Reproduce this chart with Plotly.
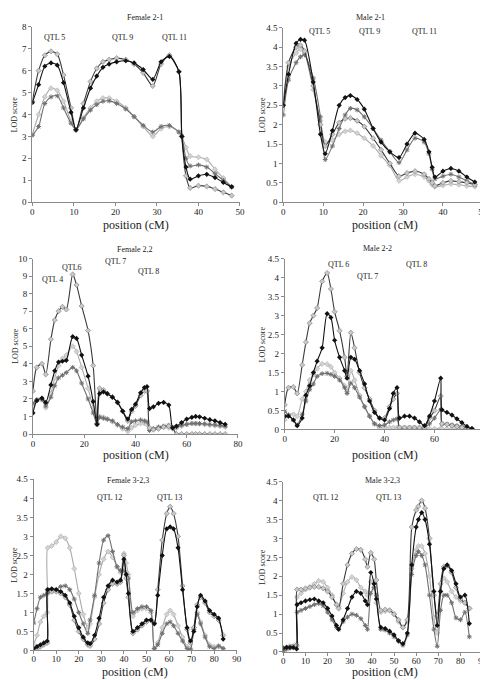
import plotly.graph_objects as go

# ---------------- data ----------------
# Panel 1: Female 2-1
pos_f21 = [0, 1.5, 3, 4.5, 6, 7.5, 9.3, 10.5, 12.3, 14, 15.5, 17, 18.5, 20.3, 22.5, 24.5,
           26.7, 29, 31, 33, 35.3, 36, 37, 38, 40, 42, 44, 46, 48]
f21_s1 = [4.54, 5.36, 6.2, 6.35, 6.25, 5.45, 4.1, 3.3, 4.3, 5.2, 5.75, 6.15, 6.3, 6.4, 6.45, 6.35,
          6.05, 5.6, 6.4, 6.65, 5.95, 3.0, 1.6, 1.05, 1.2, 1.27, 1.12, 0.9, 0.7]
f21_s2 = [4.6, 6.0, 6.7, 6.88, 6.75, 5.8, 4.3, 3.3, 4.5, 5.5, 6.1, 6.4, 6.5, 6.57, 6.5, 6.3,
          5.9, 5.3, 6.3, 6.7, 5.95, 3.0, 1.2, 0.65, 0.75, 0.72, 0.6, 0.45, 0.3]
f21_s3 = [3.1, 4.0, 4.8, 5.2, 5.1, 4.6, 3.7, 3.3, 3.85, 4.3, 4.6, 4.75, 4.75, 4.6, 4.3, 3.9,
          3.45, 3.0, 3.35, 3.45, 3.2, 3.0, 2.5, 2.1, 2.05, 1.95, 1.5, 1.1, 0.7]
f21_s4 = [3.05, 3.45, 4.5, 4.8, 4.85, 4.3, 3.6, 3.3, 3.8, 4.2, 4.45, 4.6, 4.62, 4.5, 4.25, 3.9,
          3.5, 3.2, 3.45, 3.5, 3.2, 3.0, 2.0, 1.65, 1.7, 1.6, 1.3, 1.0, 0.7]

# Panel 2: Male 2-1
pos_m21 = [0, 1.3, 3.2, 4.3, 5.3, 7.5, 9.3, 10.5, 12.3, 14, 15.5, 16.8, 18.5, 20.3, 22.5, 24.5,
           26.7, 29, 31, 33, 35.3, 36.5, 37.3, 38, 40, 42, 44, 46, 48]
m21_s1 = [2.5, 3.3, 4.1, 4.2, 4.18, 3.1, 1.75, 1.25, 1.85, 2.5, 2.7, 2.75, 2.65, 2.4, 1.9, 1.55,
          1.3, 1.15, 1.5, 1.78, 1.62, 1.3, 0.9, 0.65, 0.8, 0.87, 0.8, 0.65, 0.52]
m21_s2 = [2.5, 3.6, 4.0, 4.05, 3.9, 3.0, 2.0, 1.45, 1.75, 2.05, 2.15, 2.17, 2.1, 1.95, 1.65, 1.35,
          1.0, 0.67, 0.75, 0.8, 0.72, 0.6, 0.5, 0.42, 0.5, 0.55, 0.53, 0.5, 0.45]
m21_s3 = [2.65, 3.5, 3.85, 3.95, 3.85, 2.9, 2.1, 1.55, 1.6, 1.75, 1.83, 1.85, 1.78, 1.65, 1.45, 1.2,
          0.95, 0.55, 0.65, 0.72, 0.65, 0.55, 0.45, 0.4, 0.43, 0.47, 0.45, 0.42, 0.4]
m21_s4 = [2.25, 3.15, 3.6, 3.75, 3.8, 3.2, 2.2, 1.1, 1.45, 1.9, 2.25, 2.42, 2.38, 2.2, 1.9, 1.6,
          1.3, 1.02, 1.35, 1.65, 1.55, 1.25, 0.85, 0.6, 0.67, 0.72, 0.65, 0.55, 0.45]

# Panel 3: Female 2,2
pos_f22 = [0, 1.5, 3.5, 5, 7, 8.5, 10, 11.5, 13, 15.5, 17, 19, 21.5, 23.5, 25, 26, 27.5, 29, 31, 33,
           35, 37, 38.5, 40, 42, 43.5, 44.5, 45.5, 47, 49, 51, 53, 54.5, 56, 58, 60, 62, 63.5, 65,
           67, 69, 71, 73, 75]
f22_s1 = [1.2, 1.9, 2.05, 1.8, 2.8, 3.6, 4.1, 4.15, 4.2, 5.55, 5.45, 4.5, 3.3, 1.85, 0.55, 2.3,
          2.4, 2.3, 2.1, 1.8, 1.3, 0.85, 1.4, 1.7, 2.35, 2.65, 2.7, 1.45, 1.55, 1.75, 1.8, 1.65,
          0.35, 0.45, 0.65, 0.85, 0.95, 1.0, 0.98, 0.9, 0.82, 0.75, 0.65, 0.55]
f22_s2 = [2.45, 3.8, 4.0, 3.4, 5.4, 6.5, 7.0, 7.25, 7.1, 9.1, 8.5, 7.3, 5.9, 3.9, 0.6, 2.6,
          2.5, 2.3, 2.1, 1.8, 1.3, 0.75, 1.3, 1.6, 2.2, 2.45, 2.45, 0.35, 0.25, 0.3, 0.4, 0.45,
          0.35, 0.0, 0.0, 0.0, 0.0, 0.0, 0.0, 0.0, 0.0, 0.0, 0.0, 0.0]
f22_s3 = [1.6, 1.95, 2.0, 1.5, 2.3, 3.2, 3.9, 4.3, 4.5, 5.0, 4.7, 3.8, 2.6, 1.5, 0.6, 1.0,
          0.95, 0.85, 0.7, 0.5, 0.3, 0.15, 0.35, 0.5, 0.6, 0.6, 0.55, 0.25, 0.3, 0.35, 0.4, 0.35,
          0.3, 0.35, 0.45, 0.55, 0.6, 0.6, 0.58, 0.55, 0.5, 0.48, 0.45, 0.4]
f22_s4 = [1.75, 1.95, 1.95, 1.6, 2.1, 2.75, 3.2, 3.35, 3.5, 3.8, 3.6, 2.9, 2.0, 1.2, 0.55, 0.95,
          0.9, 0.85, 0.75, 0.55, 0.4, 0.3, 0.7, 0.75, 0.8, 0.75, 0.7, 0.2, 0.3, 0.4, 0.45, 0.5,
          0.35, 0.4, 0.5, 0.55, 0.6, 0.6, 0.6, 0.58, 0.55, 0.52, 0.48, 0.45]

# Panel 4: Male 2-2
pos_m22 = [0, 1.5, 3.5, 5, 7, 8.5, 10, 11.5, 13, 15, 17, 18.5, 20, 22, 24, 25, 26.5, 28, 30, 32,
           34, 36, 38, 40, 42, 43.5, 45, 46, 48, 50, 52, 54, 56, 58, 60, 62.5, 63, 65, 67, 69,
           71, 73, 75]
m22_s1 = [0.35, 0.35, 0.25, 0.1, 0.3, 0.9, 1.15, 1.5, 1.8, 2.15, 3.05, 2.95, 2.35, 1.9, 1.55, 1.35,
          1.9, 1.85, 1.55, 1.2, 0.75, 0.45, 0.3, 0.25, 0.55, 0.95, 1.1, 0.3, 0.35, 0.35, 0.3, 0.2,
          0.1, 0.35, 0.75, 1.35, 0.52, 0.45, 0.38, 0.28, 0.18, 0.08, 0.02]
m22_s2 = [0.65, 1.1, 1.12, 0.95, 1.7, 2.3, 2.8, 3.0, 3.2, 3.9, 4.12, 3.7, 3.1, 2.6, 1.9, 1.4,
          2.55, 2.15, 1.5, 1.1, 0.8, 0.5, 0.3, 0.3, 0.6, 0.8, 0.95, 0.05, 0.05, 0.05, 0.05, 0.05,
          0.05, 0.3, 0.5, 0.88, 0.15, 0.13, 0.1, 0.08, 0.05, 0.03, 0.02]
m22_s3 = [0.25, 0.38, 0.4, 0.35, 0.8, 1.0, 1.3, 1.45, 1.6, 1.73, 1.72, 1.65, 1.5, 1.35, 1.15, 1.0,
          1.55, 1.3, 0.9, 0.6, 0.35, 0.15, 0.05, 0.05, 0.05, 0.05, 0.05, 0.05, 0.05, 0.05, 0.05, 0.03,
          0.02, 0.02, 0.02, 0.03, 0.02, 0.02, 0.02, 0.02, 0.02, 0.01, 0.01]
m22_s4 = [0.48, 0.38, 0.25, 0.12, 0.4, 0.75, 1.05, 1.2, 1.4, 1.47, 1.48, 1.45, 1.4, 1.3, 1.1, 0.95,
          1.22, 1.1, 0.85, 0.6, 0.35, 0.15, 0.1, 0.12, 0.2, 0.25, 0.28, 0.05, 0.05, 0.05, 0.05, 0.05,
          0.05, 0.15, 0.3, 0.52, 0.15, 0.14, 0.12, 0.1, 0.07, 0.04, 0.02]

# Panel 5: Female 3-2,3
pos_f323 = [0, 1.5, 3, 4.5, 6, 6.2, 8, 10, 12, 14, 16, 18, 20, 22, 24, 25, 27, 29, 31, 33,
            35, 37, 38.5, 40, 41, 42, 44, 46, 48, 50, 52, 53.5, 55, 57, 59, 60.5, 62, 64, 66, 68,
            69.5, 71, 72.5, 74, 76, 78, 80, 82, 84]
f323_s1 = [0.05, 0.1, 0.15, 0.2, 0.25, 1.6, 1.62, 1.6, 1.55, 1.45, 1.25, 0.9, 0.6, 0.35, 0.2,
           0.18, 0.4, 0.85, 1.4, 1.7, 1.85, 1.8, 1.85, 2.4, 2.0, 1.5, 0.5, 0.6, 0.7, 0.8,
           0.8, 0.7, 1.45, 2.5, 3.2, 3.25, 3.2, 2.7, 1.6, 0.6, 0.25, 0.5, 1.15, 1.45, 1.3,
           1.05, 0.95, 0.85, 0.3]
f323_s2 = [0.02, 0.05, 0.1, 0.15, 0.2, 1.6, 1.55, 1.55, 1.5, 1.4, 1.2, 0.8, 0.5, 0.3, 0.15,
           0.12, 0.3, 0.7, 1.25, 1.6, 1.75, 1.75, 1.8, 2.5, 1.9, 1.4, 0.45, 0.55, 0.65, 0.75,
           0.8, 0.72, 1.6, 2.9, 3.6, 3.78, 3.6, 3.0, 1.7, 0.55, 0.2, 0.6, 1.2, 1.4, 1.25,
           1.0, 0.9, 0.8, 0.4]
f323_s3 = [0.15, 0.4, 0.75, 0.9, 1.0, 2.7, 2.75, 2.85, 3.0, 2.95, 2.7, 2.15, 1.5, 0.95, 0.6,
           0.7, 1.4, 2.0, 2.4, 2.6, 2.45, 2.2, 2.05, 2.55, 2.3, 2.0, 0.9, 1.05, 1.1, 1.1,
           1.0, 0.05, 0.2, 0.6, 0.95, 1.05, 0.95, 0.65, 0.35, 0.1, 0.05, 0.6, 1.0, 0.75, 0.4,
           0.15, 0.1, 0.1, 0.05]
f323_s4 = [0.72, 1.1, 1.4, 1.45, 1.5, 1.52, 1.55, 1.6, 1.68, 1.7, 1.6, 1.35, 1.0, 0.7, 0.45,
           0.8, 1.45, 2.3, 2.9, 3.02, 2.6, 2.2, 2.1, 2.1, 2.0, 1.9, 1.0, 1.1, 1.15, 1.15,
           1.05, 0.05, 0.15, 0.45, 0.7, 0.75, 0.65, 0.45, 0.25, 0.05, 0.02, 0.55, 0.95, 0.7, 0.35,
           0.1, 0.05, 0.12, 0.05]

# Panel 6: Male 3-2,3
pos_m323 = [0, 1.5, 3, 4.5, 6, 6.2, 8, 10, 12, 14, 16, 18, 20, 22, 24, 25, 27, 29, 31, 33,
            35, 37, 38, 39.5, 41, 42, 44, 46, 48, 50, 52, 54, 56, 58, 60, 61, 62.5, 64, 66, 68,
            69.5, 71, 72.5, 74, 76, 78, 80, 82, 84]
m323_s1 = [0.1, 0.12, 0.12, 0.12, 0.08, 1.25, 1.3, 1.35, 1.38, 1.4, 1.35, 1.3, 1.15, 0.95, 0.7,
           0.6, 0.85, 1.15, 1.45, 1.6, 1.55, 1.35, 1.25, 2.1, 1.8, 1.4, 0.65, 0.62, 0.55, 0.45,
           0.3, 0.22, 0.5, 2.3, 3.3, 3.5, 3.68, 3.5, 2.85, 1.6, 0.7, 1.6, 2.2, 2.3, 2.15,
           1.8, 1.45, 1.5, 0.75]
m323_s2 = [0.1, 0.12, 0.15, 0.15, 0.18, 1.65, 1.65, 1.68, 1.7, 1.72, 1.72, 1.68, 1.6, 1.45, 1.25,
           1.15, 1.8, 2.3, 2.6, 2.72, 2.7, 2.45, 2.25, 2.62, 2.45, 1.9, 1.1, 1.12, 1.1, 1.0,
           0.85, 0.65, 0.85, 3.3, 3.75, 3.85, 4.0, 3.8, 3.0, 1.5, 0.95, 1.8, 2.25, 2.28, 2.1,
           1.7, 1.4, 1.3, 1.15]
m323_s3 = [0.05, 0.08, 0.1, 0.12, 0.15, 1.45, 1.55, 1.65, 1.72, 1.8, 1.88, 1.85, 1.7, 1.5, 1.25,
           1.2, 1.55, 1.85, 1.98, 1.9, 1.7, 1.6, 1.5, 1.85, 1.7, 1.3, 1.05, 1.08, 1.1, 1.0,
           0.8, 0.65, 0.8, 2.2, 2.7, 2.8, 2.8, 2.6, 2.0, 0.9, 0.5, 1.6, 1.95, 1.85, 1.6,
           1.45, 1.35, 1.3, 1.15]
m323_s4 = [0.02, 0.08, 0.12, 0.15, 0.2, 1.05, 1.1, 1.15, 1.2, 1.25, 1.28, 1.22, 1.05, 0.85, 0.65,
           0.6, 0.8, 0.92, 1.0, 0.97, 0.88, 0.7, 0.6, 1.55, 1.7, 1.5, 0.6, 0.58, 0.5, 0.4,
           0.28, 0.18, 0.45, 2.05, 2.55, 2.65, 2.55, 2.3, 1.5, 0.6, 0.15, 1.1, 1.5, 1.5, 1.3,
           0.9, 0.85, 1.05, 0.4]

panel_titles = ["Female 2-1", "Male 2-1", "Female 2,2", "Male 2-2", "Female 3-2,3", "Male 3-2,3"]
x_axis_title = "position (cM)"
y_axis_title = "LOD score"

# ---------------- layout helpers ----------------
W, H = 488, 680
FONT = "Liberation Serif, Times New Roman, serif"


def px(x):
    return x / W


def py(y):
    return 1 - y / H


panels = [
    # positions, series, x range, x dtick, y range, y dtick, plot box (l, r, top, bottom) in px
    (pos_f21, [f21_s1, f21_s2, f21_s3, f21_s4], 50, 10, 8, 1, (22.7, 233.3, 14, 192)),
    (pos_m21, [m21_s1, m21_s2, m21_s3, m21_s4], 50, 10, 4.5, 0.5, (277.3, 479.7, 15, 192)),
    (pos_f22, [f22_s1, f22_s2, f22_s3, f22_s4], 80, 20, 10, 1, (23.3, 231.3, 249.3, 427.3)),
    (pos_m22, [m22_s1, m22_s2, m22_s3, m22_s4], 80, 20, 4.5, 0.5, (278.7, 481.3, 249.3, 422.7)),
    (pos_f323, [f323_s1, f323_s2, f323_s3, f323_s4], 90, 10, 4.5, 0.5, (24, 230, 473.3, 647)),
    (pos_m323, [m323_s1, m323_s2, m323_s3, m323_s4], 90, 10, 4.5, 0.5, (277.3, 479.5, 475.7, 648.5)),
]

styles = [
    dict(line=dict(color="#111111", width=1.1),
         marker=dict(symbol="diamond", size=4, color="#111111")),
    dict(line=dict(color="#3a3a3a", width=1.1),
         marker=dict(symbol="diamond", size=4, color="#c8c8c8", line=dict(color="#777777", width=0.6))),
    dict(line=dict(color="#ababab", width=1.1),
         marker=dict(symbol="diamond", size=4, color="#d2d2d2", line=dict(color="#aaaaaa", width=0.5))),
    dict(line=dict(color="#707070", width=1.1),
         marker=dict(symbol="asterisk-open", size=4, color="#707070", line=dict(color="#707070", width=1))),
]

fig = go.Figure()
layout_axes = {}
for i, (xs, series, xmax, xdt, ymax, ydt, box) in enumerate(panels):
    n = i + 1
    xa = "x" if n == 1 else f"x{n}"
    ya = "y" if n == 1 else f"y{n}"
    # draw lighter series first so black is on top
    for k in [2, 3, 1, 0]:
        fig.add_trace(go.Scatter(
            x=xs, y=series[k], xaxis=xa, yaxis=ya, mode="lines+markers",
            line_shape="spline", line_smoothing=0.7,
            showlegend=False, hoverinfo="skip", **styles[k]))
    l, r, t, b = box
    xkey = "xaxis" if n == 1 else f"xaxis{n}"
    ykey = "yaxis" if n == 1 else f"yaxis{n}"
    layout_axes[xkey] = dict(
        domain=[px(l), px(r)], anchor=ya, range=[0, xmax], dtick=xdt, tick0=0,
        showline=True, linecolor="#8a8a8a", linewidth=1, ticks="outside", ticklen=3,
        tickcolor="#8a8a8a", showgrid=False, zeroline=False,
        ticklabelstandoff=(-3 if n >= 5 else -2),
        tickfont=dict(family=FONT, size=9, color="#222"))
    layout_axes[ykey] = dict(
        domain=[py(b), py(t)], anchor=xa, range=[0, ymax], dtick=ydt, tick0=0,
        showline=True, linecolor="#8a8a8a", linewidth=1, ticks="outside", ticklen=3,
        tickcolor="#8a8a8a", showgrid=False, zeroline=False,
        tickfont=dict(family=FONT, size=9, color="#222"))

annotations = []


def txt(text, x, y, size=8, angle=0):
    annotations.append(dict(text=text, x=px(x), y=py(y), xref="paper", yref="paper",
                            showarrow=False, xanchor="center", yanchor="middle",
                            textangle=angle, font=dict(family=FONT, size=size, color="#222")))


# panel titles
title_pos = [(137, 5), (366, 5), (127, 240), (373, 239), (120, 474), (378, 474)]
for t, (x, y) in zip(panel_titles, title_pos):
    txt(t, x, y, 8)

# QTL labels
qtl = [("QTL 5", 45, 25), ("QTL 9", 114, 25), ("QTL 11", 167, 25),
       ("QTL 5", 314, 19), ("QTL 9", 365, 19), ("QTL 11", 421, 19),
       ("QTL 4", 43, 270), ("QTL6", 63, 258), ("QTL 7", 107, 252), ("QTL 8", 141, 262),
       ("QTL 6", 333, 255), ("QTL 7", 363, 267), ("QTL 8", 412, 255),
       ("QTL 12", 101, 492), ("QTL 13", 162, 492),
       ("QTL 12", 320, 492), ("QTL 13", 384, 492)]
for t, x, y in qtl:
    txt(t, x, y, 8)

# axis titles
xt_pos = [(128, 215), (380, 215), (128, 449), (380, 449), (127, 669), (380, 669)]
for x, y in xt_pos:
    txt(x_axis_title, x, y, 12)
yt_pos = [(5, 103), (256, 103), (5, 338), (256, 336), (5, 560), (256, 562)]
for x, y in yt_pos:
    txt(y_axis_title, x, y, 8, angle=-90)

fig.update_layout(
    width=W, height=H, margin=dict(l=0, r=0, t=0, b=0),
    paper_bgcolor="white", plot_bgcolor="white",
    annotations=annotations, **layout_axes)

fig.write_html("out.html")
